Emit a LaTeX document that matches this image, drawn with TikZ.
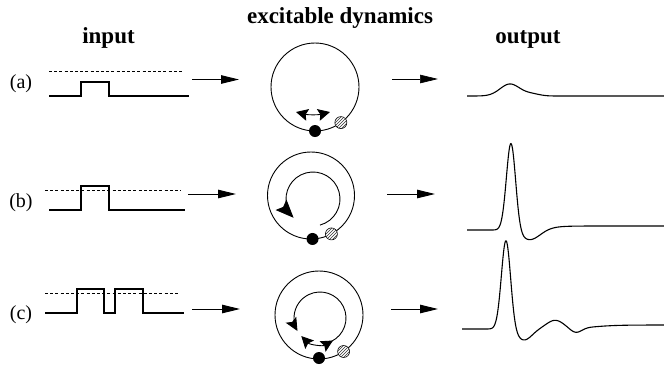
\documentclass[tikz,border=0pt]{standalone}
\usepackage{fontspec}
\setmainfont{Liberation Serif}
\usetikzlibrary{arrows.meta,patterns,calc}
\begin{document}
\begin{tikzpicture}[x=1pt,y=-1pt,
  declare function={
    gs(\t,\m,\s)=exp(-min(((\t-\m)/\s)^2,40));
    lg(\t,\m,\s)=1/(1+exp(max(-9,min(9,-(\t-\m)/\s))));
  },
  title/.style={font=\fontsize{23}{27}\selectfont\bfseries, anchor=base, inner sep=0pt},
  tag/.style={font=\fontsize{20}{24}\selectfont, inner sep=0pt},
  signal/.style={line width=1.1pt, line join=miter},
  level/.style={line width=0.7pt, dash pattern=on 3pt off 2.2pt},
  flow/.style={line width=1pt, -{Triangle[length=18pt,width=8.5pt]}},
  thinflow/.style={line width=0.7pt, -{Triangle[length=18pt,width=8.5pt]}},
  ring/.style={circle, draw, line width=0.9pt, inner sep=0pt, minimum size=#1},
  track/.style={line width=0.9pt},
  bighead/.style={-{Stealth[length=18pt,width=15pt,inset=3pt]}},
  smallheads/.style={{Stealth[length=12pt,width=12pt,inset=2pt]}-{Stealth[length=12pt,width=12pt,inset=2pt]}},
  smallhead/.style={-{Stealth[length=13pt,width=12pt,inset=2.5pt]}},
  blackdot/.style={circle, fill=black, inner sep=0pt, minimum size=12pt},
  hatchdot/.style={circle, draw, line width=0.6pt, fill=white,
    postaction={pattern=north east lines, pattern color=black!80},
    inner sep=0pt, minimum size=12pt},
  response/.style={line width=1.1pt, line join=round}
]
\useasboundingbox (0,0) rectangle (664,365);

% column headings
\node[title] (hIn)  at (108.5,43) {input};
\node[title] (hDyn) at (340,23)   {excitable dynamics};
\node[title] (hOut) at (528,43)   {output};

% row tags
\node[tag] (tagA) at (21,84)  {(a)};
\node[tag] (tagB) at (21,203) {(b)};
\node[tag] (tagC) at (21,315) {(c)};

% ---------- row (a): sub-threshold pulse ----------
\draw[level]  (49,71) -- (184,71);
\draw[signal] (49,96) -- (81,96) -- (81,82) -- (109,82) -- (109,96) -- (189,96);
\coordinate (aIn)   at (192,79.5);
\coordinate (aRing) at (239,79.5);
\draw[flow] (aIn) -- (aRing);

\node[ring=88pt] (ringA) at (315,87) {};
\draw[track, smallheads] (296,112) .. controls (308,115) and (318,115) .. (330,112);
\node[blackdot] (restA)  at ($(315,87)+(90:44)$) {};
\node[hatchdot] (hatchA) at ($(315,87)+(54:44)$) {};

\coordinate (aFrom) at (392,79);
\coordinate (aOut)  at (438,79);
\draw[thinflow] (aFrom) -- (aOut);
\draw[response] plot[domain=467:664, samples=200]
  (\x, {96-12*gs(\x,510,14)-2*gs(\x,532,11)});

% ---------- row (b): supra-threshold pulse ----------
\draw[level]  (45,190) -- (181,190);
\draw[signal] (49,210) -- (81,210) -- (81,186) -- (109,186) -- (109,210) -- (185,210);
\coordinate (bIn)   at (188,194);
\coordinate (bRing) at (236,194);
\draw[flow] (bIn) -- (bRing);

\node[ring=87pt] (ringB) at (311,195.5) {};
\draw[track, bighead] ($(313,199)+(75:27)$) arc[start angle=75, end angle=-224, radius=27];
\node[blackdot] (restB)  at ($(311,195.5)+(88:43.5)$) {};
\node[hatchdot] (hatchB) at ($(311,195.5)+(62:43.5)$) {};

\coordinate (bFrom) at (387,194);
\coordinate (bOut)  at (435,194);
\draw[flow] (bFrom) -- (bOut);
\draw[response] plot[domain=467:664, samples=400]
  (\x, {230-88*gs(\x,511,6.5)+10*gs(\x,530,14)-4*lg(\x,548,8)});

% ---------- row (c): two pulses ----------
\draw[level]  (45,293) -- (180,293);
\draw[signal] (45,313) -- (77,313) -- (77,289) -- (104,289) -- (104,313)
  -- (115,313) -- (115,289) -- (143,289) -- (143,313) -- (184,313);
\coordinate (cIn)   at (192,309);
\coordinate (cRing) at (240,309);
\draw[flow] (cIn) -- (cRing);

\node[ring=88pt] (ringC) at (319,315) {};
\draw[track, smallhead] ($(320,318)+(64:26)$) arc[start angle=64, end angle=-210, radius=26];
\draw[track, smallheads] ($(320,318)+(136:26)$) arc[start angle=136, end angle=60, radius=26];
\node[blackdot] (restC)  at ($(319,315)+(90:43)$) {};
\node[hatchdot] (hatchC) at ($(319,315)+(56:44)$) {};

\coordinate (cFrom) at (391,309);
\coordinate (cOut)  at (438,309);
\draw[flow] (cFrom) -- (cOut);
\draw[response] plot[domain=462:664, samples=400]
  (\x, {329-89*gs(\x,506,6.5)+11*gs(\x,524,11)-8.5*gs(\x,555,12)+4.5*gs(\x,576,8)-4*lg(\x,592,12)});
\end{tikzpicture}
\end{document}
